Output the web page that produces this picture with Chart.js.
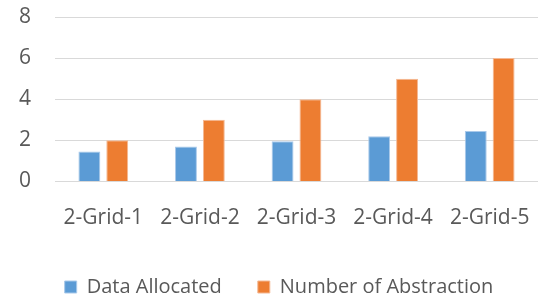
<!DOCTYPE html>
<html><head><meta charset="utf-8">
<script src="https://cdn.jsdelivr.net/npm/chart.js@4"></script>
<style>
html,body{margin:0;padding:0;background:#fff;overflow:hidden;width:538px;height:296px;}
#wrap{position:relative;width:538px;height:307px;}
</style></head>
<body><div id="wrap"><canvas id="c"></canvas></div>
<script>
const categories = ["2-Grid-1","2-Grid-2","2-Grid-3","2-Grid-4","2-Grid-5"];
const dataAllocated = [1.45, 1.7, 1.95, 2.2, 2.45];
const numberOfAbstraction = [2, 3, 4, 5, 6];
const yTicks = [0, 2, 4, 6, 8];

const fam = "'Open Sans', sans-serif";
const clear = 'rgba(0,0,0,0)';
new Chart(document.getElementById('c'), {
  type: 'bar',
  data: {
    labels: categories,
    datasets: [
      {label: 'Data Allocated', data: dataAllocated, backgroundColor: '#5b9bd5', borderColor: '#a9c9ea', borderWidth: 1},
      {label: 'Number of Abstraction', data: numberOfAbstraction, backgroundColor: '#ed7d31', borderColor: '#f4b893', borderWidth: 1}
    ]
  },
  options: {
    responsive: true, maintainAspectRatio: false, animation: false,
    layout: {padding: {left: 19, right: -1, top: 17, bottom: 0}},
    plugins: {
      legend: {position: 'bottom', labels: {font: {family: fam, size: 20}, color: '#595959', boxWidth: 12, boxHeight: 12, padding: 36}},
      tooltip: {enabled: false}
    },
    scales: {
      x: {
        grid: {display: true, drawOnChartArea: false, color: clear, tickColor: clear, drawTicks: true, tickLength: 24},
        border: {display: false},
        title: {display: true, text: ' ', color: clear, font: {size: 7}, padding: {top: 2, bottom: 0}},
        ticks: {font: {family: fam, size: 21}, color: '#595959', padding: 0, maxRotation: 0}
      },
      y: {
        min: 0, max: 8,
        afterBuildTicks: s => { s.ticks = yTicks.map(v => ({value: v})); },
        grid: {color: '#d9d9d9', lineWidth: 1, drawTicks: true, tickLength: 24, tickColor: clear},
        border: {display: false},
        ticks: {font: {family: fam, size: 21}, color: '#595959', padding: 0}
      }
    },
    datasets: {bar: {categoryPercentage: 0.577, barPercentage: 0.786}}
  }
});
</script></body></html>
